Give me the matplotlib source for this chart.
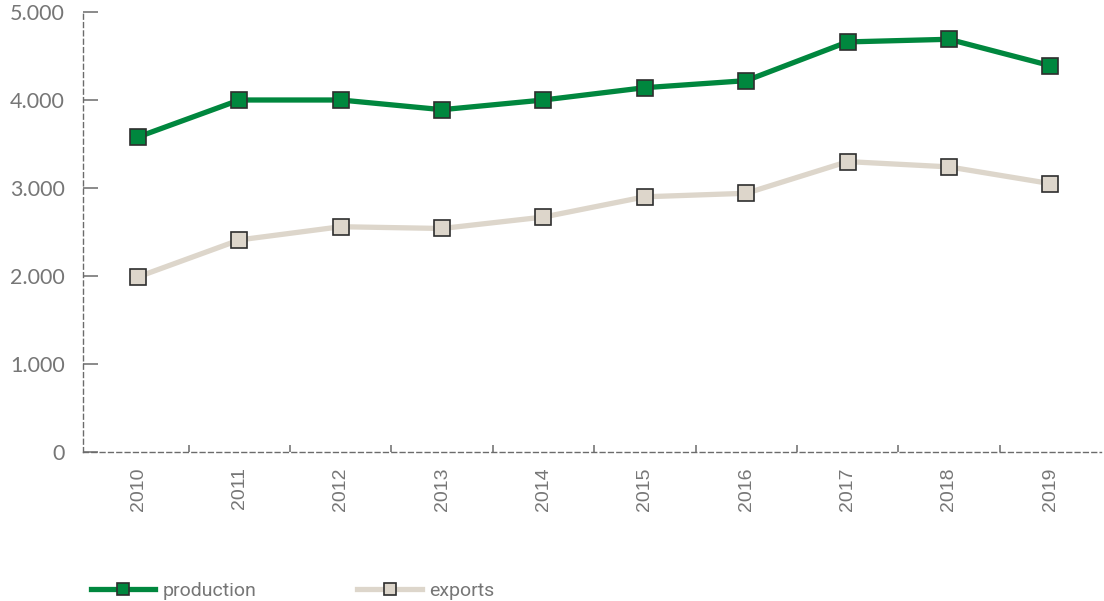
import matplotlib
matplotlib.use("Agg")
import matplotlib.pyplot as plt
from matplotlib.lines import Line2D

# -------- data --------
years = ["2010", "2011", "2012", "2013", "2014", "2015", "2016", "2017", "2018", "2019"]
production = [3580, 4000, 4000, 3890, 4000, 4140, 4220, 4660, 4690, 4390]
exports = [1990, 2410, 2560, 2540, 2670, 2900, 2940, 3300, 3240, 3050]
y_ticks = [0, 1000, 2000, 3000, 4000, 5000]
y_labels = ["0", "1.000", "2.000", "3.000", "4.000", "5.000"]

green = "#00873E"
beige = "#DDD6CB"
edge = "#2E2E2E"
grey = "#6B6B6B"
label_grey = "#767676"

fig = plt.figure(figsize=(11.04, 6.01), dpi=100)
ax = fig.add_axes([83 / 1104, 149 / 601, 1018 / 1104, 440 / 601])

x = list(range(len(years)))
ax.plot(x, exports, color=beige, lw=3.8, marker="s", ms=12,
        mfc=beige, mec=edge, mew=1.2, zorder=3)
ax.plot(x, production, color=green, lw=3.8, marker="s", ms=12,
        mfc=green, mec=edge, mew=1.2, zorder=4)

ax.set_xlim(-0.543, 9.5)
ax.set_ylim(0, 5000)

# -------- axes styling --------
for side in ("top", "right"):
    ax.spines[side].set_visible(False)
for side in ("left", "bottom"):
    ax.spines[side].set_color(grey)
    ax.spines[side].set_linewidth(1.0)
    ax.spines[side].set_linestyle((0, (3.5, 2.5)))

ax.set_yticks(y_ticks)
ax.set_yticklabels(y_labels, fontsize=15.5, color=label_grey, family="Lato")
ax.tick_params(axis="y", direction="in", length=11, width=1.1, color=grey, pad=13)

ax.set_xticks(x)
ax.set_xticklabels(years, rotation=90, fontsize=14, color=label_grey,
                   family="Liberation Sans")
ax.tick_params(axis="x", which="major", length=0, pad=11)
ax.set_xticks([i + 0.5 for i in x[:-1]], minor=True)
ax.tick_params(axis="x", which="minor", direction="in", length=5, width=1.1, color=grey)

# -------- legend --------
handles = [
    Line2D([], [], color=green, lw=3.8, marker="s", ms=9, mfc=green, mec=edge, mew=1.2),
    Line2D([], [], color=beige, lw=3.8, marker="s", ms=9, mfc=beige, mec=edge, mew=1.2),
]
leg = fig.legend(handles, ["production", "exports"], loc="center left",
                 bbox_to_anchor=(73 / 1104, 1 - 591 / 601), ncol=2, frameon=False,
                 handlelength=3.3, handletextpad=0.4, columnspacing=5.2,
                 numpoints=1, prop={"family": "Roboto", "size": 14})
for t in leg.get_texts():
    t.set_color(label_grey)

fig.savefig("out.png", dpi=100)
